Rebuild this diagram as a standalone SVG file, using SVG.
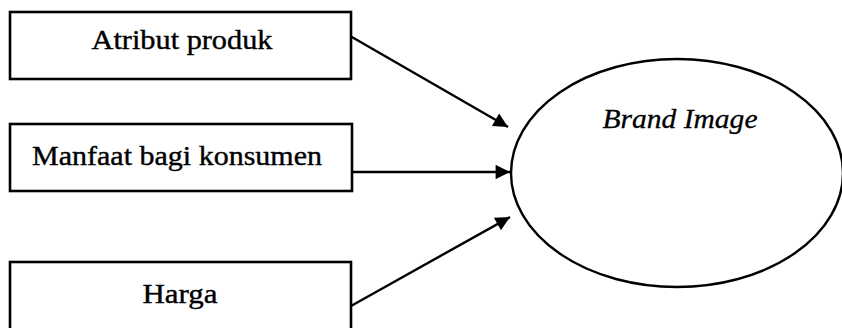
<svg xmlns="http://www.w3.org/2000/svg" width="842" height="328" viewBox="0 0 842 328">
<style>
.box{fill:#fff;stroke:#000;stroke-width:2.6}
.lbl{font-family:"Liberation Serif","Times New Roman",serif;font-size:28px;fill:#000;stroke:#000;stroke-width:0.4;text-anchor:middle}
.conn{stroke:#000;stroke-width:2.4;fill:none}
</style>
<defs>
<marker id="ah" viewBox="0 0 10 10" refX="10" refY="5" markerWidth="7.5" markerHeight="6" markerUnits="strokeWidth" orient="auto">
<path d="M0,0 L10,5 L0,10 Z" fill="#000"/>
</marker>
</defs>
<rect width="842" height="328" fill="#fff"/>
<g id="node-atribut">
<rect class="box" x="10" y="12" width="341" height="67"/>
<text class="lbl" x="182" y="49" textLength="181" lengthAdjust="spacingAndGlyphs">Atribut produk</text>
</g>
<g id="node-manfaat">
<rect class="box" x="10" y="124" width="342" height="67"/>
<text class="lbl" x="177" y="165" textLength="290" lengthAdjust="spacingAndGlyphs">Manfaat bagi konsumen</text>
</g>
<g id="node-harga">
<rect class="box" x="10" y="262" width="341" height="80"/>
<text class="lbl" x="180" y="303" textLength="75" lengthAdjust="spacingAndGlyphs">Harga</text>
</g>
<g id="node-brand">
<ellipse cx="677" cy="173" rx="166" ry="114" fill="#fff" stroke="#000" stroke-width="2.4"/>
<text x="680" y="128" font-family="'Liberation Serif','Times New Roman',serif" font-size="28" font-style="italic" stroke="#000" stroke-width="0.3" text-anchor="middle" textLength="155" lengthAdjust="spacingAndGlyphs">Brand Image</text>
</g>
<g id="connectors">
<line class="conn" x1="351" y1="36.5" x2="508" y2="127" marker-end="url(#ah)"/>
<line class="conn" x1="352" y1="172" x2="510" y2="172" marker-end="url(#ah)"/>
<line class="conn" x1="351" y1="306" x2="510" y2="217" marker-end="url(#ah)"/>
</g>
</svg>
